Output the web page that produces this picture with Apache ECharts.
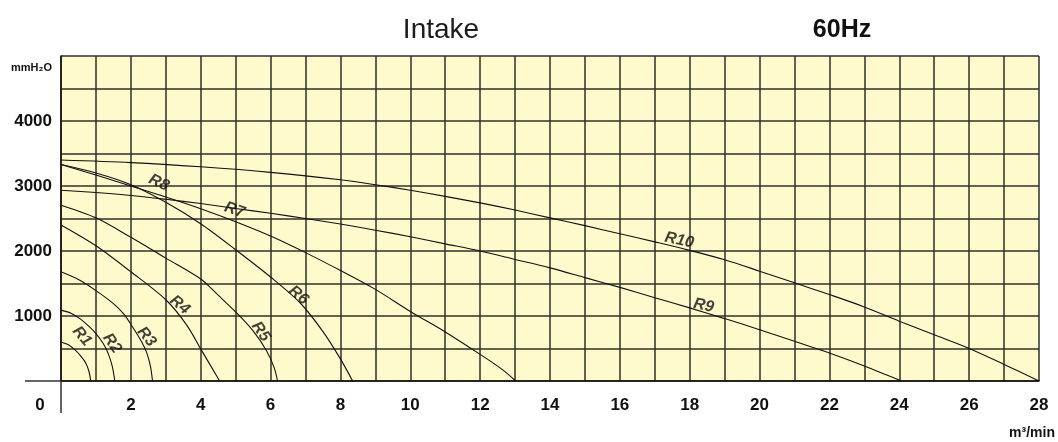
<!DOCTYPE html>
<html>
<head>
<meta charset="utf-8">
<script src="https://cdn.jsdelivr.net/npm/echarts/dist/echarts.min.js"></script>
<style>
html,body{margin:0;padding:0;background:#fff;}
#chart{width:1058px;height:442px;}
</style>
</head>
<body>
<div id="chart"></div>
<script>
// ---- data ----
const curveNames = ['R1','R2','R3','R4','R5','R6','R7','R9','R10'];
const R1 = [[0,600],[0.2,560],[0.4,480],[0.55,395],[0.7,285],[0.8,150],[0.85,0]];
const R2 = [[0,1090],[0.3,1040],[0.55,955],[0.8,840],[1.0,730],[1.2,585],[1.35,425],[1.47,220],[1.54,0]];
const R3 = [[0,1680],[0.5,1560],[1.0,1390],[1.5,1190],[1.8,1030],[2.05,830],[2.3,610],[2.45,440],[2.56,230],[2.62,0]];
const R4 = [[0,2400],[1,2080],[2,1680],[3,1250],[3.6,860],[4.02,475],[4.35,175],[4.54,0]];
const R5 = [[0,2705],[1,2510],[2,2210],[3,1890],[4,1570],[4.5,1320],[5.1,1010],[5.5,770],[5.88,470],[6.1,210],[6.2,0]];
const R6 = [[0,3330],[1,3200],[2,3020],[3,2750],[4,2420],[5,2020],[6,1600],[6.85,1200],[7.5,760],[8,340],[8.35,0]];
const R7 = [[0,3330],[1,3170],[2,3000],[3,2830],[4,2650],[5,2450],[6,2230],[7,1975],[8,1700],[9,1410],[10,1070],[11,755],[12,410],[12.6,190],[13.02,0]];
const R9 = [[0,2935],[1,2900],[2,2855],[3,2795],[4,2730],[5,2655],[6,2580],[7,2500],[8,2415],[9,2320],[10,2220],[11,2110],[12,2000],[13,1870],[14,1740],[15,1590],[16,1440],[17,1280],[18,1125],[19,960],[20,790],[21,610],[22,430],[23,230],[24.06,0]];
const R10 = [[0,3400],[2,3360],[4,3295],[6,3210],[8,3095],[9,3020],[10,2935],[11,2840],[12,2740],[13,2630],[14,2510],[15,2390],[16,2265],[17,2140],[18,2010],[19,1865],[20,1690],[21,1510],[22,1330],[23,1140],[24,920],[25,710],[26,500],[27,255],[28,0]];
const curves = [R1,R2,R3,R4,R5,R6,R7,R9,R10];

// curve labels (value coordinates where each tag sits)
const labelNames = ['R1','R2','R3','R4','R5','R6','R7','R8','R9','R10'];
const labelX = [0.6,1.46,2.45,3.4,5.72,6.8,4.97,2.8,18.4,17.7];
const labelY = [690,580,680,1170,760,1320,2630,3050,1160,2165];
const labelRotate = [-50,-55,-50,-40,-55,-40,-18,-25,-12,-12];

const titleText = 'Intake';
const freqText = '60Hz';
const yUnit = 'mmH\u2082O';
const xUnit = 'm\u00b3/min';

// ---- chart ----
const SANS = "'Liberation Sans',Arial,sans-serif";
const gridLine = {color:'#30302a', width:1.5};

const chart = echarts.init(document.getElementById('chart'), null, {renderer:'canvas'});

const series = curves.map((d,i)=>({
  name: curveNames[i], type:'line', data:d, showSymbol:false, silent:true,
  smooth:0.3, clip:true, xAxisIndex:0, yAxisIndex:0,
  lineStyle:{color:'#111', width:1.1}, z:3
}));
series.push({
  name:'labels', type:'scatter', silent:true, symbolSize:1, xAxisIndex:0, yAxisIndex:0,
  itemStyle:{color:'rgba(0,0,0,0)'}, z:5,
  data: labelNames.map((n,i)=>({name:n, value:[labelX[i],labelY[i]], label:{rotate:labelRotate[i]}})),
  label:{show:true, position:'inside', formatter:'{b}', color:'#111',
    fontFamily:SANS, fontStyle:'italic', fontSize:16, fontWeight:'bold'}
});

const axisFont = {fontFamily:SANS, fontWeight:'bold', fontSize:17, color:'#111'};

chart.setOption({
  animation:false,
  backgroundColor:'#ffffff',
  grid:{left:61, right:17, top:56, bottom:61, show:true, backgroundColor:'#fefacb', borderWidth:0},
  graphic:[
    {type:'text', x:441, y:30, style:{text:titleText, fontFamily:SANS, fontSize:28, fontWeight:'normal', fill:'#1c1c1c', align:'center', verticalAlign:'middle'}},
    {type:'text', x:842, y:30, style:{text:freqText, fontFamily:SANS, fontSize:25, fontWeight:'bold', fill:'#111', align:'center', verticalAlign:'middle'}}
  ],
  xAxis:[{
    type:'value', min:0, max:28, interval:2,
    name:xUnit, nameLocation:'end', nameGap:16,
    nameTextStyle:{fontFamily:SANS, fontWeight:'bold', fontSize:14, color:'#111', align:'right', verticalAlign:'top', padding:[45,0,0,0]},
    axisLine:{show:true, onZero:false, lineStyle:{color:'#111', width:1.5}},
    axisTick:{show:false},
    minorTick:{show:false, splitNumber:2},
    splitLine:{show:true, lineStyle:gridLine},
    minorSplitLine:{show:true, lineStyle:gridLine},
    axisLabel:Object.assign({margin:16,
      formatter:v=> v===0 ? '{z|0}' : String(v),
      rich:{z:Object.assign({padding:[0,42,0,0]}, axisFont)}}, axisFont)
  },{
    type:'value', min:0, max:28, position:'bottom',
    axisLine:{show:false}, axisLabel:{show:false}, splitLine:{show:false},
    axisTick:{show:true, customValues:[0], length:32, lineStyle:{color:'#333', width:1.5}}
  }],
  yAxis:[{
    type:'value', min:0, max:5000, interval:1000,
    name:yUnit, nameLocation:'end', nameGap:-12,
    nameTextStyle:{fontFamily:SANS, fontWeight:'bold', fontSize:11, color:'#111', align:'right', verticalAlign:'middle', padding:[0,9,0,0]},
    axisLine:{show:true, onZero:false, lineStyle:{color:'#111', width:1.5}},
    axisTick:{show:false},
    minorTick:{show:false, splitNumber:2},
    splitLine:{show:true, lineStyle:gridLine},
    minorSplitLine:{show:true, lineStyle:gridLine},
    axisLabel:Object.assign({margin:9,
      formatter:v=> (v===0||v===5000) ? '' : String(v)}, axisFont)
  },{
    type:'value', min:0, max:5000, position:'left',
    axisLine:{show:false}, axisLabel:{show:false}, splitLine:{show:false},
    axisTick:{show:true, customValues:[0], length:36, lineStyle:{color:'#333', width:1.5}}
  }],
  series: series
});
</script>
</body>
</html>
